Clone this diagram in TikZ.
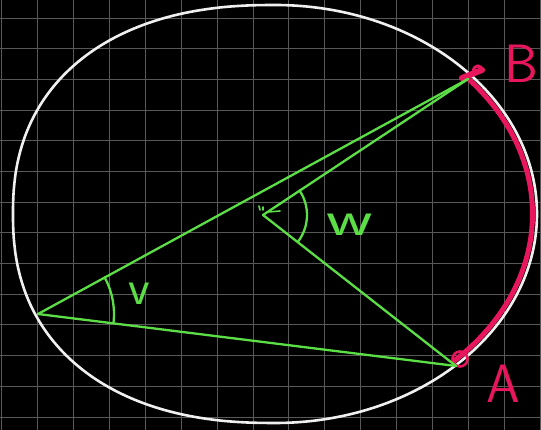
\documentclass[tikz,border=0pt]{standalone}
\usetikzlibrary{calc}
\definecolor{chalkgreen}{RGB}{92,222,70}
\definecolor{chalkpink}{RGB}{232,22,92}
\definecolor{gridgray}{RGB}{88,88,88}
\definecolor{chalkwhite}{RGB}{240,240,240}
\tikzset{
  gridline/.style={draw=gridgray, line width=1pt},
  rim/.style={draw=chalkwhite, line width=2.6pt, line join=round},
  chord/.style={draw=chalkgreen, line width=2.3pt, line cap=round, line join=round},
  arcmark/.style={draw=chalkpink, line width=3.6pt, line cap=round, line join=round},
  greenlabel/.style={text=chalkgreen, font=\sffamily\fontsize{50}{50}\selectfont, inner sep=0pt},
  pinklabel/.style={text=chalkpink, font=\sffamily\fontsize{54}{54}\selectfont, inner sep=0pt}
}
\begin{document}
\begin{tikzpicture}[x=1pt,y=1pt]
\useasboundingbox (0,0) rectangle (541,430);
\fill[black] (0,0) rectangle (541,430);
% grid
\foreach \i in {0,...,15} { \draw[gridline] (1.7+35.9*\i,0) -- (1.7+35.9*\i,430); }
\foreach \j in {0,...,13} { \draw[gridline] (0,411.7-30.67*\j) -- (541,411.7-30.67*\j); }
% points
\coordinate (V) at (38,116);
\coordinate (B) at (468,351);
\coordinate (A) at (456,64);
\coordinate (W) at (263,215);
\coordinate (O) at (275,216);
% pink arc from A to B, hugging the rim on the inside
\draw[arcmark, line width=5pt] ($(O)+(-46:257.5pt and 204.5pt)$)
  arc[start angle=-46, end angle=41, x radius=257.5pt, y radius=204.5pt];
% rim: elliptical on the right, slightly squarer on the left
\draw[rim] (275,7) arc[start angle=-90, end angle=90, x radius=262pt, y radius=209pt]
  -- plot[domain=90.5:269.5, samples=140, smooth]
     ({275-262*abs(cos(\x))^0.8696}, {216+209*sign(sin(\x))*abs(sin(\x))^0.8696})
  -- cycle;
% markers
\draw[arcmark, line width=6pt] (462,352) -- (482,360);
\draw[arcmark, line width=3pt] (473,358) .. controls (474,366) and (481,366) .. (483,359);
\draw[chalkpink, line width=2.6pt] (460,71) circle[radius=7.5pt];
% chords
\draw[chord] (V) -- (B);
\draw[chord] (V) -- (A);
\draw[chord] (W) -- (B);
\draw[chord] (W) -- (A);
% angle arcs
\draw[chord] ($(V)+(-7.1:76pt)$) arc[start angle=-7.1, end angle=28.9, radius=76pt];
\draw[chord] ($(W)+(-38:44pt)$) arc[start angle=-38, end angle=33.8, radius=44pt];
% small strokes near W
\draw[chord, line width=1.6pt] (268,218) -- (280,219);
\draw[chord, line width=1.6pt] (259,224) -- (260,220);
\draw[chord, line width=1.6pt] (263,223) -- (263,220);
% labels
\node[greenlabel] (lv) at (139,136) {v};
\node[greenlabel, xscale=1.45] (lw) at (350,205) {w};
\node[pinklabel] (lB) at (521,366) {B};
\node[pinklabel] (lA) at (503,46) {A};
\end{tikzpicture}
\end{document}
